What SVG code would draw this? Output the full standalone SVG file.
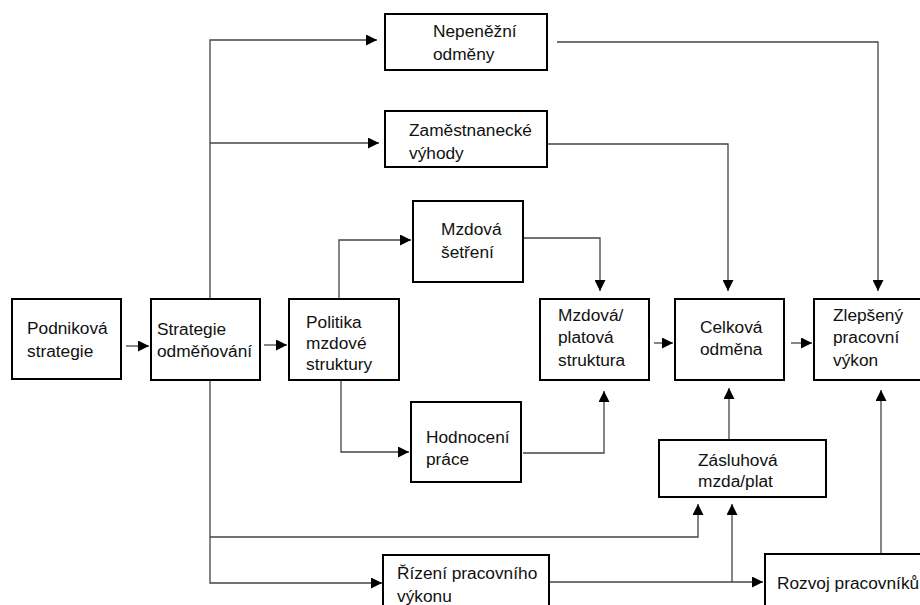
<svg xmlns="http://www.w3.org/2000/svg" width="920" height="605" viewBox="0 0 920 605">
<defs>
<marker id="ah" markerUnits="userSpaceOnUse" markerWidth="11" markerHeight="11" refX="11" refY="5.5" orient="auto">
<path d="M0,0 L11,5.5 L0,11 z" fill="#000"/>
</marker>
</defs>
<style>
.box{fill:#fff;stroke:#000;stroke-width:2}
.t{font-family:"Liberation Sans",Arial,sans-serif;font-size:17.3px;fill:#111}
.c{fill:none;stroke:#444;stroke-width:1.3;marker-end:url(#ah)}
</style>
<rect width="920" height="605" fill="#fff"/>
<g id="connectors">
<path class="c" d="M126,346 H149"/>
<path class="c" d="M264,345 H287"/>
<path class="c" d="M654,343 H673"/>
<path class="c" d="M791,343 H812"/>
<path class="c" d="M210,298 V40 H377"/>
<path class="c" d="M210,143 H379"/>
<path class="c" d="M210,380 V583 H382"/>
<path class="c" d="M210,537 H698 V504"/>
<path class="c" d="M339,298 V240 H411"/>
<path class="c" d="M341,380 V452 H409"/>
<path class="c" d="M523,238 H600 V291"/>
<path class="c" d="M523,453 H604 V391"/>
<path class="c" d="M557,42 H878 V291"/>
<path class="c" d="M547,144 H728 V291"/>
<path class="c" d="M729,440 V388"/>
<path class="c" d="M549,582 H763"/>
<path class="c" d="M732,582 V504"/>
<path class="c" d="M881,554 V390"/>
</g>
<g id="podnikova"><rect class="box" x="12" y="299" width="109" height="80"/><text class="t" x="27" y="334">Podniková</text><text class="t" x="27" y="357">strategie</text></g>
<g id="strategie"><rect class="box" x="151" y="299" width="109" height="81"/><text class="t" x="157" y="335">Strategie</text><text class="t" x="157" y="357">odměňování</text></g>
<g id="politika"><rect class="box" x="289" y="299" width="110" height="81"/><text class="t" x="306" y="328">Politika</text><text class="t" x="306" y="349">mzdové</text><text class="t" x="306" y="370">struktury</text></g>
<g id="nepenezni"><rect class="box" x="385" y="14" width="162" height="56"/><text class="t" x="433" y="37">Nepeněžní</text><text class="t" x="433" y="60">odměny</text></g>
<g id="zamestnanecke"><rect class="box" x="385" y="111" width="162" height="56"/><text class="t" x="409" y="136">Zaměstnanecké</text><text class="t" x="409" y="159">výhody</text></g>
<g id="setreni"><rect class="box" x="413" y="201" width="110" height="81"/><text class="t" x="441" y="235">Mzdová</text><text class="t" x="441" y="258">šetření</text></g>
<g id="hodnoceni"><rect class="box" x="411" y="402" width="110" height="80"/><text class="t" x="426" y="443">Hodnocení</text><text class="t" x="426" y="465">práce</text></g>
<g id="platova"><rect class="box" x="540" y="299" width="109" height="81"/><text class="t" x="558" y="321">Mzdová/</text><text class="t" x="558" y="343">platová</text><text class="t" x="558" y="366">struktura</text></g>
<g id="celkova"><rect class="box" x="675" y="299" width="109" height="81"/><text class="t" x="700" y="333">Celková</text><text class="t" x="700" y="355">odměna</text></g>
<g id="zlepseny"><rect class="box" x="814" y="299" width="110" height="81"/><text class="t" x="833" y="321">Zlepšený</text><text class="t" x="833" y="343">pracovní</text><text class="t" x="833" y="366">výkon</text></g>
<g id="zasluhova"><rect class="box" x="659" y="440" width="167" height="57"/><text class="t" x="698" y="466">Zásluhová</text><text class="t" x="698" y="487">mzda/plat</text></g>
<g id="rizeni"><rect class="box" x="383" y="555" width="166" height="60"/><text class="t" x="397" y="579">Řízení pracovního</text><text class="t" x="397" y="602">výkonu</text></g>
<g id="rozvoj"><rect class="box" x="765" y="554" width="160" height="60"/><text class="t" x="777" y="589">Rozvoj pracovníků</text></g>
</svg>
